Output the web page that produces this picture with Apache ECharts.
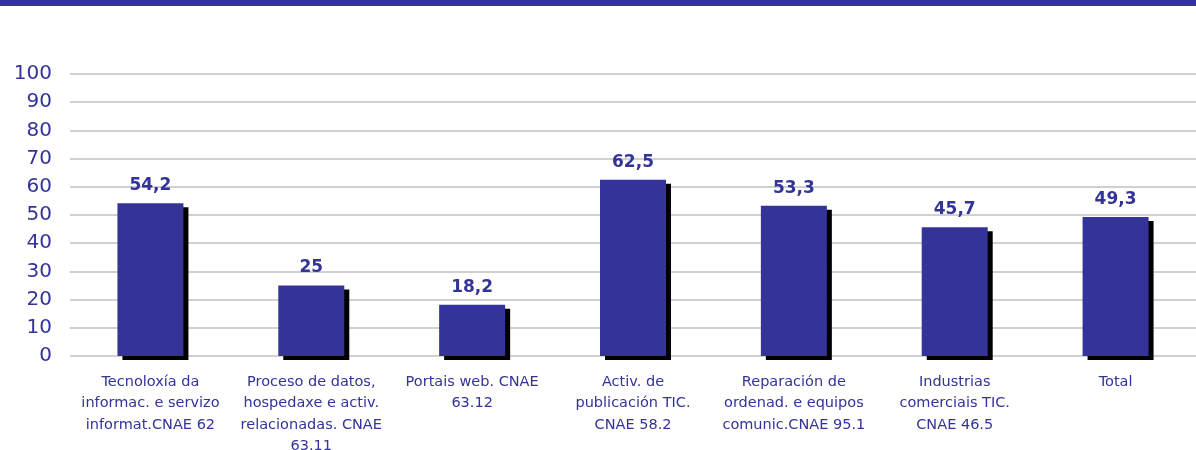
<!DOCTYPE html>
<html>
<head>
<meta charset="utf-8">
<script src="https://cdn.jsdelivr.net/npm/echarts@6/dist/echarts.min.js"></script>
<style>
  html, body { margin: 0; padding: 0; background: #fff; }
  #chart { width: 1196px; height: 450px; }
</style>
</head>
<body>
<div id="chart"></div>
<script>
// categorías (eixo X)
const categories = [
  'Tecnoloxía da\ninformac. e servizo\ninformat.CNAE 62',
  'Proceso de datos,\nhospedaxe e activ.\nrelacionadas. CNAE\n63.11',
  'Portais web. CNAE\n63.12',
  'Activ. de\npublicación TIC.\nCNAE 58.2',
  'Reparación de\nordenad. e equipos\ncomunic.CNAE 95.1',
  'Industrias\ncomerciais TIC.\nCNAE 46.5',
  'Total'
]
// valores (%)
const values = [54.2, 25, 18.2, 62.5, 53.3, 45.7, 49.3]

const blue = '#333399'
const mychart = echarts.init(document.getElementById('chart'))
const option = {
  animation: false,
  graphic: [
    { type: 'rect', left: 0, top: 0, shape: { width: 1196, height: 6 }, style: { fill: blue } }
  ],
  grid: { left: 70, right: 0, top: 74, bottom: 94, outerBoundsMode: 'none', containLabel: false },
  xAxis: {
    type: 'category',
    data: categories,
    axisLine: { show: false },
    axisTick: { show: false },
    axisLabel: {
      interval: 0,
      margin: 15,
      color: blue,
      fontFamily: 'DejaVu Sans',
      fontSize: 14.5,
      lineHeight: 21.5
    }
  },
  yAxis: {
    type: 'value',
    min: 0,
    max: 100,
    interval: 10,
    axisLine: { show: false },
    axisTick: { show: false },
    splitLine: { lineStyle: { color: '#c0c0c0', width: 1.5 } },
    axisLabel: {
      margin: 18,
      color: blue,
      fontFamily: 'DejaVu Sans',
      fontSize: 20
    }
  },
  series: [
    {
      type: 'bar',
      data: values,
      barWidth: 66,
      itemStyle: {
        color: blue,
        shadowColor: '#000',
        shadowBlur: 0,
        shadowOffsetX: 5,
        shadowOffsetY: 4
      },
      label: {
        show: true,
        position: 'top',
        distance: 9,
        color: blue,
        fontFamily: 'DejaVu Sans',
        fontWeight: 'bold',
        fontSize: 17,
        formatter: p => String(p.value).replace('.', ',')
      }
    }
  ]
}
mychart.setOption(option)
</script>
</body>
</html>
